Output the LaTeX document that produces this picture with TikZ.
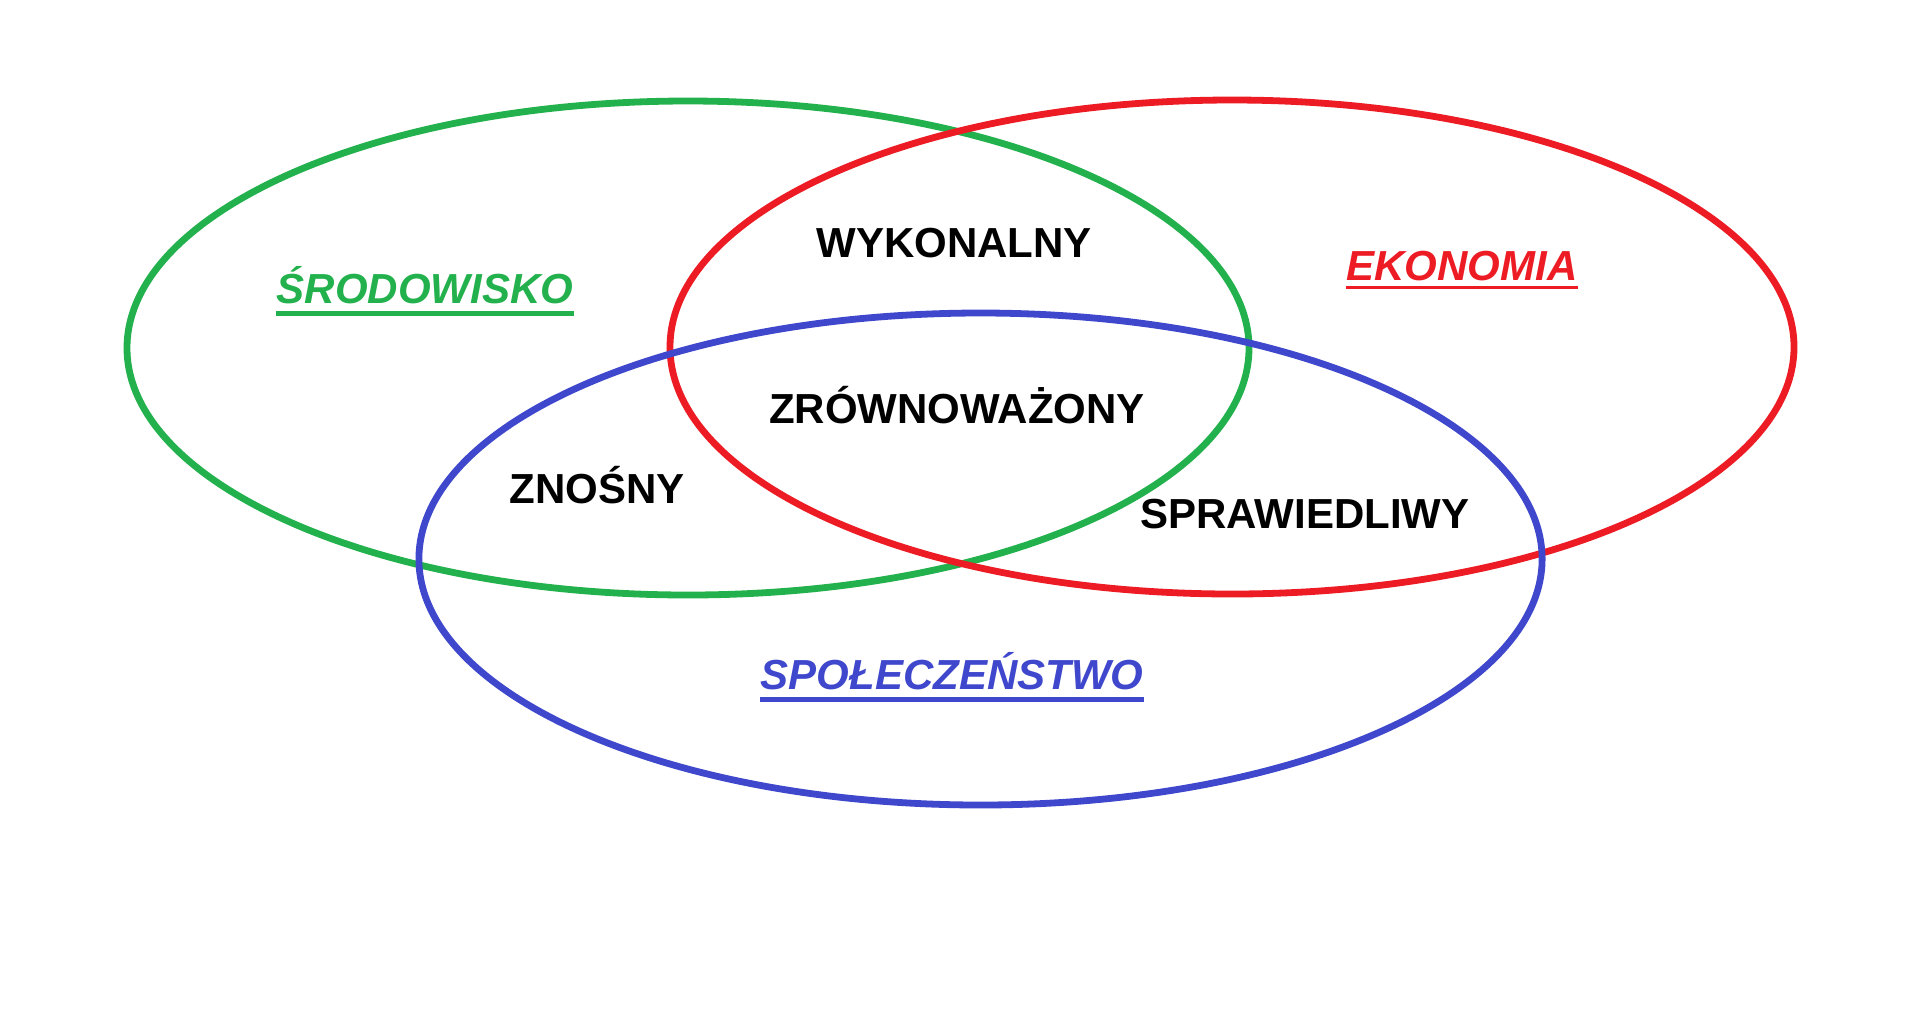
\documentclass[tikz,border=0pt]{standalone}
\usepackage{fontspec}
\setmainfont{Liberation Sans}
\definecolor{pgreen}{RGB}{34,177,76}
\definecolor{pred}{RGB}{237,28,36}
\definecolor{pblue}{RGB}{63,72,204}
\begin{document}
\begin{tikzpicture}[x=0.5pt,y=-0.5pt,
  ring/.style={line width=3.4pt},
  lbl/.style={font=\fontsize{21}{25}\selectfont\bfseries, inner sep=0pt, anchor=base},
  cat/.style={font=\fontsize{21}{25}\selectfont\bfseries\itshape, inner sep=0pt, anchor=base},
]
\useasboundingbox[fill=white] (0,0) rectangle (1920,1019);
% ellipses
\draw[ring, pgreen] (688,348) ellipse [x radius=280.5pt, y radius=123.5pt];
\draw[ring, pred] (1232,347) ellipse [x radius=281pt, y radius=123.5pt];
\draw[ring, pblue] (980.5,559) ellipse [x radius=280.8pt, y radius=123pt];
% intersection labels
\node[lbl] (wyk) at (954,257) {WYKONALNY};
\node[lbl] (zrow) at (957,423) {ZRÓWNOWAŻONY};
\node[lbl] (zno) at (597,503) {ZNOŚNY};
\node[lbl] (spr) at (1305,528) {SPRAWIEDLIWY};
% category labels
\node[cat, text=pgreen] (sro) at (425,303) {ŚRODOWISKO};
\draw[pgreen, line width=2.5pt] ([yshift=-5pt]sro.base west) -- ([yshift=-5pt]sro.base east);
\node[cat, text=pred] (eko) at (1462,280) {EKONOMIA};
\draw[pred, line width=1.7pt] ([yshift=-3.7pt]eko.base west) -- ([yshift=-3.7pt]eko.base east);
\node[cat, text=pblue] (spo) at (952,689) {SPOŁECZEŃSTWO};
\draw[pblue, line width=2.5pt] ([yshift=-5pt]spo.base west) -- ([yshift=-5pt]spo.base east);
\end{tikzpicture}
\end{document}
